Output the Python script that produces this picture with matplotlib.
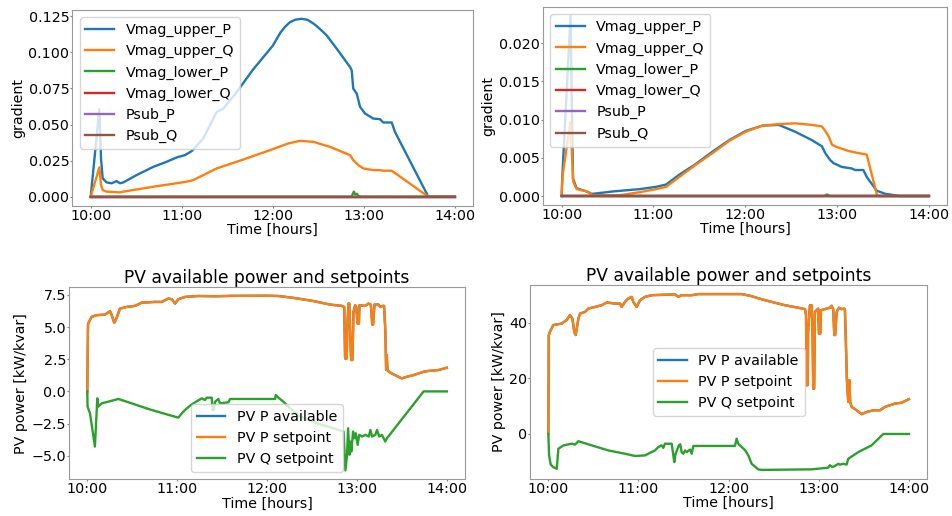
import numpy as np
import matplotlib
matplotlib.use("Agg")
import matplotlib.pyplot as plt
from matplotlib.ticker import MultipleLocator, FixedLocator, FixedFormatter

plt.rcParams["font.family"] = ["DejaVu Sans"]
plt.rcParams["font.size"] = 10.3
plt.rcParams["xtick.major.size"] = 1.5
plt.rcParams["ytick.major.size"] = 1.5
plt.rcParams["xtick.major.pad"] = 0.8
plt.rcParams["ytick.major.pad"] = 0.8

# ---- tick labels on the time axis (hours after midnight) ----
HOUR_TICKS = [10, 11, 12, 13, 14]
HOUR_LABELS = ["10:00", "11:00", "12:00", "13:00", "14:00"]

# ---- gradient traces, feeder 1 (minutes after 10:00, value) ----
g1_upP_t = [0, 5.7, 6.8, 7.9, 10.5, 13.8, 17.1, 19.3, 21.5, 30.3, 41.3, 50.1, 56.7,
            62.2, 66.6, 74.2, 83.1, 87.4, 96.3, 107, 120, 125, 128, 131.4, 135, 139,
            143, 147, 151, 155.6, 162.2, 171, 172.1, 173.1, 175.4, 177.6, 180.9, 186.3,
            190.7, 192.9, 198.5, 200.6, 222.6, 240]
g1_upP_v = [0, 0.0606, 0.0265, 0.0127, 0.0099, 0.0093, 0.0108, 0.0093, 0.0099, 0.015,
            0.0207, 0.0242, 0.0272, 0.0288, 0.0316, 0.0403, 0.0587, 0.061, 0.0725, 0.088,
            0.1045, 0.1135, 0.1175, 0.1209, 0.1226, 0.1232, 0.1225, 0.1198, 0.1163, 0.1117,
            0.1025, 0.0898, 0.0875, 0.0749, 0.0714, 0.0622, 0.0576, 0.0541, 0.0537, 0.0514,
            0.0514, 0.0449, 0.0, 0.0]

g1_upQ_t = [0, 5.7, 6.8, 7.9, 10.5, 19.3, 21.5, 41.3, 63.3, 67.6, 83.1, 96.3, 118.2,
            130, 138, 146.8, 157.8, 171, 173.1, 176.4, 179.7, 186.3, 190.7, 192.9, 198.5,
            222.6, 240]
g1_upQ_v = [0, 0.0203, 0.0081, 0.0046, 0.0035, 0.003, 0.0035, 0.0069, 0.0104, 0.0115,
            0.0196, 0.0242, 0.0322, 0.0368, 0.0387, 0.038, 0.0345, 0.0288, 0.0253, 0.0219,
            0.0196, 0.0184, 0.0184, 0.018, 0.018, 0.0, 0.0]

g1_loP_t = [0, 172, 173.5, 174.5, 175.5, 176.5, 178, 240]
g1_loP_v = [0, 0, 0.0035, 0.0015, 0.002, 0.0005, 0, 0]

# ---- gradient traces, feeder 2 ----
g2_upP_t = [0, 0.5, 5.8, 7.4, 9.8, 16.3, 19.5, 21, 33.6, 51, 61.8, 68.3, 77, 87.8, 98.6,
            109.5, 120.3, 131.2, 142, 152.8, 163.7, 170.2, 172.4, 175.6, 177.8, 183.2,
            189.7, 191.9, 197.3, 199.5, 206, 211.4, 221.2, 240]
g2_upP_v = [0, 0.0028, 0.0235, 0.0023, 0.001, 0.0006, 0.0003, 0.0003, 0.0006, 0.0009,
            0.0012, 0.0015, 0.0028, 0.0042, 0.0058, 0.0073, 0.0085, 0.0092, 0.0093, 0.0084,
            0.0073, 0.0065, 0.0056, 0.0047, 0.0043, 0.0038, 0.0036, 0.0034, 0.0034, 0.0025,
            0.0007, 0.0003, 0, 0]

g2_upQ_t = [0, 0.5, 5.7, 7.6, 9.8, 16.3, 20.6, 37.9, 51, 61.8, 68.3, 77, 87.8, 98.6,
            109.5, 120.3, 131.2, 142, 152.8, 163.7, 170.2, 172.4, 174.6, 176.8, 180,
            187.5, 191.9, 197.3, 199.5, 206, 207, 240]
g2_upQ_v = [0, 0.0025, 0.0097, 0.0019, 0.0009, 0.0006, 0.0001, 0.0001, 0.0005, 0.0009,
            0.0012, 0.0025, 0.0041, 0.0056, 0.0072, 0.0084, 0.0092, 0.0094, 0.0095, 0.0093,
            0.0091, 0.0085, 0.0078, 0.0067, 0.0064, 0.0059, 0.0057, 0.0055, 0.0054, 0.0003,
            0, 0]

g2_loP_t = [0, 172, 173.5, 175, 240]
g2_loP_v = [0, 0, 0.0002, 0, 0]

# traces that stay at zero over the whole window
zero_t = [0, 240]
zero_v = [0, 0]

# ---- PV power, feeder 1 ----
pv1_p_t = [0, 0.5, 2.9, 6.3, 11.8, 15.2, 16.3, 18, 19.6, 21.8, 26.3, 31.9, 36.3, 45.2,
           49.7, 54.1, 56.4, 58.6, 60.8, 65.3, 74.2, 85.3, 96.5, 118.7, 127.6, 136, 150,
           162.1, 169.9, 171.5, 172.1, 173.2, 173.6, 174.3, 174.9, 175.4, 176.1, 177,
           177.7, 178.8, 179.5, 180.4, 181.3, 181.7, 185.5, 187.7, 189.3, 190.2, 190.8,
           191.7, 194.4, 195.5, 197.3, 198.1, 199, 199.5, 199.9, 200.4, 201.3, 204.4,
           210, 213.4, 217.8, 224.5, 229, 234.5, 240]
pv1_p_v = [0, 5.25, 5.8, 5.93, 5.97, 6.24, 5.93, 5.35, 5.72, 6.44, 6.57, 6.65, 6.9, 6.96,
           6.96, 7.22, 7.17, 6.83, 7.17, 7.35, 7.42, 7.4, 7.43, 7.44, 7.42, 7.3, 7.05,
           6.75, 6.65, 6.57, 2.56, 2.56, 4.89, 6.83, 6.83, 4.89, 2.44, 2.44,
           6.18, 6.7, 6.57, 5.28, 5.28, 6.7, 6.65, 6.83, 6.75, 5.2, 5.2,
           6.75, 6.75, 6.57, 6.65, 6.65, 4.63, 1.66, 2.82, 1.66, 1.53, 1.32,
           1.01, 1.14, 1.27, 1.53, 1.61, 1.66, 1.84]
pv1_avail_v = list(pv1_p_v)

pv1_q_t = [0, 0.2, 1.8, 5.1, 6.7, 7.3, 9.6, 14, 20.7, 29.7, 40.8, 51.9, 60.8, 63.1, 65.3,
           68.6, 71.9, 76.4, 78.6, 79.7, 83.1, 83.6, 84.6, 85.3, 87.5, 88.6, 94.2, 95.3,
           125.4, 125.8, 127.6, 130.9, 135.4, 142, 153.2, 164.3, 171.1, 172.3, 173.4,
           174.1, 175, 175.6, 176.3, 177.4, 178.3, 179.2, 180.5, 181.5, 183.5, 185.7,
           187.9, 189, 190.1, 192.3, 193.4, 194.9, 196.7, 197.8, 198.9, 200, 224.5, 240]
pv1_q_v = [0, -1.19, -1.7, -4.29, -0.54, -1.19, -0.93, -0.8, -0.59, -0.93, -1.37, -1.75,
           -2.04, -1.71, -1.44, -1.11, -0.85, -0.54, -0.67, -0.49, -0.49, -1.44, -1.44,
           -0.8, -0.59, -0.93, -0.85, -0.59, -0.59, -0.28, -0.49, -0.8, -1.32, -1.96,
           -2.48, -2.87, -3.13, -6.15, -4.93, -2.87, -4.93, -3.9, -4.67, -3.13, -3.65,
           -3.26, -4.16, -3.38, -3.51, -3.38, -3.51, -3.0, -3.51, -3.38, -3.0, -3.51,
           -3.38, -3.65, -3.9, -3.65, 0.0, 0.0]

# ---- PV power, feeder 2 ----
pv2_p_t = [0, 0.3, 1.1, 3.3, 5.6, 8.9, 12.2, 14.4, 16, 17.3, 18.2, 20, 21.1, 24.4, 26.6,
           31.1, 35.5, 38.9, 44.4, 47.7, 48.8, 51, 53.2, 55.5, 56.5, 58.8, 61, 64.3, 68.8,
           84.3, 86.5, 88.5, 95.4, 99.8, 128.7, 134.2, 144.2, 157.5, 166.3, 170.8, 171.5,
           171.9, 172.6, 172.9, 174.1, 175.2, 175.8, 176.3, 176.9, 177.4, 178.5, 179.6,
           180.1, 181, 181.4, 184.1, 187.4, 188.5, 189.6, 190.3, 190.9, 191.9, 193.4,
           195.2, 196.9, 197.4, 198, 198.7, 199.6, 200.3, 200.9, 201.9, 205.2, 208.5,
           211.9, 216.3, 220.7, 224, 230.7, 235.1, 240]
pv2_p_v = [0, 35.5, 36.7, 39.1, 39.3, 39.6, 40.9, 42.7, 41.4, 36.6, 35.5, 41.4, 43.2, 43.8,
           45, 45.6, 46.2, 47.2, 46.8, 46.8, 45.6, 47.4, 48.6, 49.2, 47.4, 45.6, 48, 49.2,
           49.8, 50.1, 49.2, 49.8, 49.8, 50.2, 50.2, 49.6, 48, 46.2, 45.3, 44.8, 42.7,
           17.5, 17.5, 36.7, 46.2, 46.2, 37.8, 16.3, 16.3, 43.8, 44.4, 45,
           36, 36, 44.4, 44.8, 45.3, 46, 44.8, 35.5, 35.5, 43.8, 45.3,
           44.8, 45, 44.4, 33.1, 19.3, 11.5, 19.3, 11.5, 9.7, 8.5, 7.1,
           7.9, 8.5, 8.5, 9.7, 10.9, 11.2, 12.5]
pv2_avail_v = list(pv2_p_v)

pv2_q_t = [0, 0.5, 1.6, 3.3, 5.6, 6.7, 10, 15.6, 17.8, 20, 28.9, 39.9, 51, 57.7, 64.3,
           66.5, 71, 73.2, 75.4, 76.5, 77.6, 82.1, 83.2, 83.8, 84.7, 86, 86.9, 87.8, 88.7,
           89.8, 91, 92.1, 94.3, 95.4, 96.5, 124.2, 125.3, 126.4, 130.9, 133.1, 135.3,
           139.7, 142, 175.2, 186.3, 187.4, 189, 190.7, 193, 194.1, 196.3, 198.5, 199.6,
           206.3, 215.1, 222.9, 240]
pv2_q_v = [0, -7.7, -11, -11.9, -12.5, -5.3, -4.1, -3.5, -3.8, -2.6, -4.1, -5.9, -7.1,
           -7.9, -7.7, -7.1, -5.9, -4.7, -4.1, -5, -3.5, -3.5, -7.7, -10.1, -7.1, -5.3,
           -4.1, -3.7, -6.5, -7.1, -5.9, -6.5, -5.6, -7.1, -4.3, -4.3, -1.7, -3.5, -5.8,
           -7.7, -10.7, -12.7, -12.9, -12.7, -12.1, -11.2, -11.9, -11.5, -10.7, -11,
           -10.7, -11, -8.9, -6.5, -4.1, 0, 0]

GRAD_LABELS = ["Vmag_upper_P", "Vmag_upper_Q", "Vmag_lower_P", "Vmag_lower_Q",
               "Psub_P", "Psub_Q"]
PV_LABELS = ["PV P available", "PV P setpoint", "PV Q setpoint"]

LW = 1.7


def hours(minutes):
    return 10 + np.asarray(minutes, dtype=float) / 60.0


W, H = 953, 516
fig = plt.figure(figsize=(W / 100, H / 100), dpi=100)


def axes_px(left, top, right, bottom):
    return fig.add_axes([left / W, 1 - bottom / H, (right - left) / W, (bottom - top) / H])


def style(ax):
    ax.xaxis.set_major_locator(FixedLocator(HOUR_TICKS))
    ax.xaxis.set_major_formatter(FixedFormatter(HOUR_LABELS))
    ax.set_xlabel("Time [hours]", labelpad=0)
    ax.yaxis.labelpad = 2.5
    for s in ax.spines.values():
        s.set_edgecolor("0.6")
    ax.tick_params(color="0.5")


ax_tl = axes_px(72.5, 9.9, 472.9, 205.6)
ax_tr = axes_px(543.3, 7.3, 947.0, 205.0)
ax_bl = axes_px(69.3, 287.0, 464.8, 479.2)
ax_br = axes_px(530.3, 285.3, 927.0, 478.7)

grad_sets = [
    (ax_tl, [(g1_upP_t, g1_upP_v), (g1_upQ_t, g1_upQ_v), (g1_loP_t, g1_loP_v),
             (zero_t, zero_v), (zero_t, zero_v), (zero_t, zero_v)], 0.025),
    (ax_tr, [(g2_upP_t, g2_upP_v), (g2_upQ_t, g2_upQ_v), (g2_loP_t, g2_loP_v),
             (zero_t, zero_v), (zero_t, zero_v), (zero_t, zero_v)], 0.005),
]
for ax, series, step in grad_sets:
    for (t, v), lab in zip(series, GRAD_LABELS):
        ax.plot(hours(t), v, lw=LW, label=lab)
    ax.set_ylabel("gradient")
    ax.yaxis.set_major_locator(MultipleLocator(step))
    ax.legend(loc="upper left")
    style(ax)

pv_sets = [
    (ax_bl, pv1_p_t, pv1_avail_v, pv1_p_v, pv1_q_t, pv1_q_v, 2.5, "lower center"),
    (ax_br, pv2_p_t, pv2_avail_v, pv2_p_v, pv2_q_t, pv2_q_v, 20, "center"),
]
for ax, pt, av, pv, qt, qv, step, loc in pv_sets:
    ax.plot(hours(pt), av, lw=LW, label=PV_LABELS[0])
    ax.plot(hours(pt), pv, lw=LW, label=PV_LABELS[1])
    ax.plot(hours(qt), qv, lw=LW, label=PV_LABELS[2])
    ax.set_title("PV available power and setpoints", pad=1.5)
    ax.set_ylabel("PV power [kW/kvar]")
    ax.yaxis.set_major_locator(MultipleLocator(step))
    ax.legend(loc=loc)
    style(ax)

fig.savefig("out.png", dpi=100)
